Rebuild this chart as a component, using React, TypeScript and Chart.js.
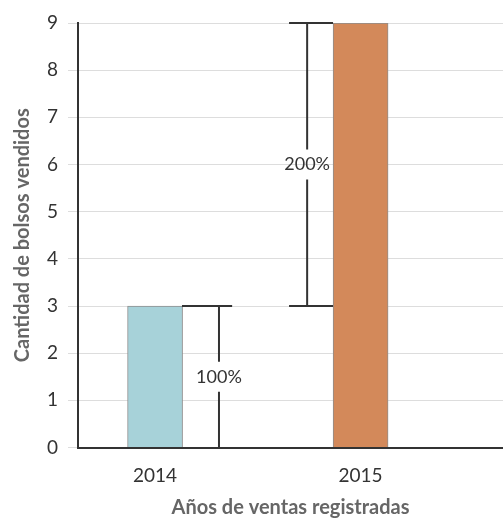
import React, { useEffect, useRef } from "react";
import { Chart, registerables } from "chart.js";

Chart.register(...registerables);

const years = ["2014", "2015"];
const sales = [3, 9];
const barColors = ["#a7d2d9", "#d3895a"];
const yTickValues = [0, 1, 2, 3, 4, 5, 6, 7, 8, 9];
const bracketLabels = ["100%", "200%"];
const bracketFrom = [0, 3];
const bracketTo = [3, 9];

// annotation geometry (x in data units of the linear x axis)
const bracketGeom = [
  { x: 0.311, hx0: 0.131, hx1: 0.375, capTop: true, capBottom: false },
  { x: 0.74, hx0: 0.652, hx1: 0.866, capTop: true, capBottom: true },
];

const FONT = "Lato, 'Open Sans', sans-serif";

const bracketPlugin = {
  id: "brackets",
  afterDatasetsDraw(chart: any) {
    const { ctx, scales } = chart;
    const xs = scales.x;
    const ys = scales.y;
    ctx.save();
    ctx.strokeStyle = "#333";
    ctx.lineWidth = 2;
    ctx.font = `18px ${FONT}`;
    ctx.textAlign = "center";
    ctx.textBaseline = "middle";
    bracketGeom.forEach((g, i) => {
      const x = xs.getPixelForValue(g.x);
      const yTop = ys.getPixelForValue(bracketTo[i]);
      const yBot = ys.getPixelForValue(bracketFrom[i]);
      const hx0 = xs.getPixelForValue(g.hx0);
      const hx1 = xs.getPixelForValue(g.hx1);
      const yMid = ys.getPixelForValue((bracketTo[i] + bracketFrom[i]) / 2);
      const gap = 15;
      ctx.beginPath();
      ctx.moveTo(x, yTop);
      ctx.lineTo(x, yMid - gap);
      ctx.moveTo(x, yMid + gap);
      ctx.lineTo(x, yBot);
      if (g.capTop) {
        ctx.moveTo(hx0, yTop);
        ctx.lineTo(hx1, yTop);
      }
      if (g.capBottom) {
        ctx.moveTo(hx0, yBot);
        ctx.lineTo(hx1, yBot);
      }
      ctx.stroke();
      ctx.fillStyle = "#333";
      ctx.fillText(bracketLabels[i], x, yMid);
    });
    ctx.restore();
  },
};

export default function App() {
  const ref = useRef<HTMLCanvasElement | null>(null);
  useEffect(() => {
    document.body.style.margin = "0";
    const c = ref.current!;
    const chart = new Chart(c, {
      type: "bar",
      data: {
        datasets: [
          {
            data: years.map((_, i) => ({ x: i, y: sales[i] })),
            backgroundColor: barColors,
            borderColor: "#8e8e8e",
            borderWidth: 1,
            barThickness: 55,
          },
        ],
      },
      options: {
        animation: false,
        responsive: false,
        maintainAspectRatio: false,
        layout: { padding: { top: 23, right: 0, left: 0, bottom: 0 } },
        plugins: { legend: { display: false }, tooltip: { enabled: false } },
        scales: {
          x: {
            type: "linear",
            offset: false,
            min: -0.375,
            max: 1.693,
            afterBuildTicks: (s: any) => {
              s.ticks = years.map((_, i) => ({ value: i }));
            },
            ticks: {
              callback: (v: any) => years[Math.round(v)] ?? "",
              font: { family: FONT, size: 19 },
              color: "#333",
              padding: 9,
              autoSkip: false,
              maxRotation: 0,
            },
            grid: { display: false },
            border: { display: true, color: "#333", width: 2 },
            title: {
              display: true,
              text: "Años de ventas registradas",
              font: { family: FONT, size: 20, weight: "bold" },
              color: "#666",
              padding: { top: 4, bottom: 2 },
            },
            afterFit: (s: any) => {
              s.height = 74.5;
            },
          },
          y: {
            min: 0,
            max: 9,
            afterBuildTicks: (s: any) => {
              s.ticks = yTickValues.map((v) => ({ value: v }));
            },
            ticks: {
              font: { family: FONT, size: 19 },
              color: "#333",
              padding: 10,
            },
            grid: { color: "#dddddd", lineWidth: 1, tickLength: 10 },
            border: { display: true, color: "#333", width: 2 },
            title: {
              display: true,
              text: "Cantidad de bolsos vendidos",
              font: { family: FONT, size: 20, weight: "bold" },
              color: "#666",
              padding: { top: 11, bottom: 4 },
            },
            afterFit: (s: any) => {
              s.width = 78;
            },
          },
        },
      },
      plugins: [bracketPlugin],
    });
    return () => chart.destroy();
  }, []);
  return <canvas ref={ref} width={503} height={522} style={{ display: "block" }} />;
}
